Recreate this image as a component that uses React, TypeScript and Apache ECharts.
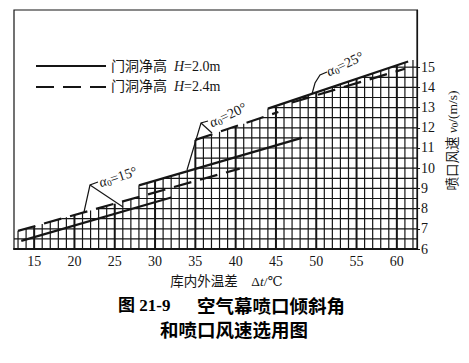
import React, { useEffect, useRef } from 'react';
import * as echarts from 'echarts';

// axis ticks
const xTickLabels = [15, 20, 25, 30, 35, 40, 45, 50, 55, 60];
const yTickLabels = [6, 7, 8, 9, 10, 11, 12, 13, 14, 15];

// 门洞净高 H = 2.0 m (solid)  [Δt, v0]
const solid15 = [[13.4, 6.4], [32.0, 8.55]];
const solid20 = [[28.0, 9.15], [48.2, 11.5]];
const solid25 = [[44.0, 12.95], [61.4, 15.28]];
// 门洞净高 H = 2.4 m (dashed)
const dashed15 = [[13.0, 6.9], [40.5, 9.98]];
const dashed20 = [[35.0, 11.4], [45.3, 12.78]];
const dashed25 = [[47.0, 13.25], [61.0, 14.92]];

// upper boundary of the chart grid: line used until each break value
const gridTopLines = [dashed15, solid20, dashed20, solid25];
const gridTopBreaks = [28, 35, 44, 62.5];

// grid positions
const gridColumns = [13, 14, 15, 16, 17, 18, 19, 20, 21, 22, 23, 24, 25, 26, 27, 28, 29, 30, 31, 32, 33, 34, 35, 36, 37, 38, 39, 40, 41, 42, 43, 44, 45, 46, 47, 48, 49, 50, 51, 52, 53, 54, 55, 56, 57, 58, 59, 60, 61, 62];
const gridRows = [6.5, 7, 7.5, 8, 8.5, 9, 9.5, 10, 10.5, 11, 11.5, 12, 12.5, 13, 13.5, 14, 14.5, 15];

const X_MIN = 12.5;
const X_MAX = 62.5;
const Y_MIN = 6;
const Y_MAX = 17.83;

const NAME_20 = '门洞净高  H=2.0m';
const NAME_24 = '门洞净高  H=2.4m';

function lineAt(line: number[][], t: number) {
  const [[x1, y1], [x2, y2]] = line;
  return y1 + ((y2 - y1) * (t - x1)) / (x2 - x1);
}

function gridTop(t: number) {
  for (let i = 0; i < gridTopBreaks.length; i++) {
    if (t < gridTopBreaks[i] || i === gridTopBreaks.length - 1) return lineAt(gridTopLines[i], t);
  }
  return Y_MIN;
}

function rowStart(v: number): number | null {
  let from = X_MIN;
  for (let i = 0; i < gridTopBreaks.length; i++) {
    const to = gridTopBreaks[i];
    const line = gridTopLines[i];
    const a = lineAt(line, from);
    const b = lineAt(line, to);
    if (v <= a) return from;
    if (v <= b) return from + ((v - a) * (to - from)) / (b - a);
    from = to;
  }
  return null;
}

function buildGridSegments() {
  const segs: number[][] = [];
  gridColumns.forEach((t) => {
    segs.push([t, Y_MIN, t, gridTop(t), t % 5 === 0 ? 1 : 0]);
  });
  gridRows.forEach((v) => {
    const s = rowStart(v);
    if (s !== null) segs.push([s, v, X_MAX, v, 0]);
  });
  return segs;
}

const serif = '"Liberation Serif", "DejaVu Serif", "Noto Sans CJK SC", serif';
const ink = '#151515';

function curve(name: string, data: number[][], dashed: boolean) {
  return {
    type: 'line',
    name,
    data,
    symbol: 'none',
    showSymbol: false,
    silent: true,
    z: 5,
    lineStyle: { color: ink, width: 2.2, type: dashed ? [18, 9] : 'solid' },
    itemStyle: { color: ink },
  };
}

function alphaLabel(text: string, x: number, y: number, deg: number) {
  return {
    type: 'text',
    x,
    y,
    rotation: (deg * Math.PI) / 180,
    style: {
      text: `{i|α}{s|0}{n|=${text}°}`,
      align: 'center',
      verticalAlign: 'middle',
      fill: ink,
      rich: {
        i: { fontFamily: serif, fontStyle: 'italic', fontSize: 14, fill: ink },
        s: { fontFamily: serif, fontSize: 9, fill: ink, padding: [6, 0, 0, 0] },
        n: { fontFamily: serif, fontSize: 14, fill: ink },
      },
    },
    z: 10,
  };
}

function leader(points: number[][]) {
  return {
    type: 'polyline',
    shape: { points },
    style: { stroke: ink, lineWidth: 1.2, fill: null },
    z: 10,
  };
}

export default function App() {
  const ref = useRef<HTMLDivElement>(null);
  useEffect(() => {
    const chart = echarts.init(ref.current!, undefined, { renderer: 'svg' });
    const option: any = {
      animation: false,
      backgroundColor: '#fff',
      grid: {
        left: 14,
        right: 52,
        top: 10,
        bottom: 114,
        show: true,
        borderColor: ink,
        borderWidth: 1.2,
      },
      xAxis: {
        type: 'value',
        min: X_MIN,
        max: X_MAX,
        splitLine: { show: false },
        axisTick: { show: false },
        axisLine: { show: true, onZero: false, lineStyle: { color: ink, width: 2 } },
        axisLabel: { customValues: xTickLabels, color: ink, fontSize: 14, fontFamily: serif, margin: 5 },
        name: '{a|库内外温差    Δ}{i|t}{a|/℃}',
        nameLocation: 'middle',
        nameGap: 26,
        nameTextStyle: {
          padding: [0, 0, 0, 22],
          rich: {
            a: { fontSize: 13.5, color: ink, fontFamily: serif },
            i: { fontSize: 13.5, color: ink, fontFamily: serif, fontStyle: 'italic' },
          },
        },
      },
      yAxis: {
        type: 'value',
        position: 'right',
        min: Y_MIN,
        max: Y_MAX,
        splitLine: { show: false },
        axisLine: { show: true, lineStyle: { color: ink, width: 1.2 } },
        axisTick: { show: true, customValues: yTickLabels, length: 3, lineStyle: { color: ink } },
        axisLabel: { customValues: yTickLabels, color: ink, fontSize: 14, fontFamily: serif, margin: 4 },
        name: '{a|喷口风速 }{i|v}{s|0}{a|/(m/s)}',
        nameLocation: 'middle',
        nameRotate: 90,
        nameGap: 8,
        nameTextStyle: {
          padding: [0, 22, 0, 0],
          rich: {
            a: { fontSize: 13.5, color: ink, fontFamily: serif },
            i: { fontSize: 13.5, color: ink, fontFamily: serif, fontStyle: 'italic' },
            s: { fontSize: 9, color: ink, fontFamily: serif, padding: [5, 0, 0, 0] },
          },
        },
      },
      legend: {
        data: [NAME_20, NAME_24],
        orient: 'vertical',
        left: 30,
        top: 54,
        itemWidth: 70,
        itemHeight: 14,
        itemGap: 7,
        selectedMode: false,
        itemStyle: { color: 'rgba(0,0,0,0)', borderColor: 'rgba(0,0,0,0)', borderWidth: 0 },
        formatter: (name: string) => name.replace('H', '{i|H}'),
        textStyle: {
          fontSize: 14,
          color: ink,
          fontFamily: serif,
          rich: {
            i: { fontSize: 14, color: ink, fontFamily: serif, fontStyle: 'italic' },
          },
        },
      },
      graphic: [
        alphaLabel('15', 118, 177, 18),
        alphaLabel('20', 228, 115, 25),
        alphaLabel('25', 345, 64, 25),
        leader([[98, 182], [90, 185], [84, 212]]),
        leader([[90, 185], [123, 207]]),
        leader([[208, 121], [201, 123], [187, 170]]),
        leader([[201, 123], [212, 133]]),
        leader([[327, 72], [320, 75], [315, 83], [312, 94]]),
        {
          type: 'text',
          x: 118,
          y: 305,
          style: { text: '图 21-9', font: `bold 17px ${serif}`, fill: '#000', align: 'left', verticalAlign: 'middle' },
        },
        {
          type: 'text',
          x: 197,
          y: 305,
          style: { text: '空气幕喷口倾斜角', font: 'bold 18.5px "Noto Sans CJK SC", sans-serif', fill: '#000', align: 'left', verticalAlign: 'middle' },
        },
        {
          type: 'text',
          x: 234,
          y: 329,
          style: { text: '和喷口风速选用图', font: 'bold 18.5px "Noto Sans CJK SC", sans-serif', fill: '#000', align: 'center', verticalAlign: 'middle' },
        },
      ],
      series: [
        {
          type: 'custom',
          silent: true,
          z: 2,
          encode: { x: [0, 2], y: [1, 3] },
          data: buildGridSegments(),
          renderItem: (_params: any, api: any) => {
            const p1 = api.coord([api.value(0), api.value(1)]);
            const p2 = api.coord([api.value(2), api.value(3)]);
            return {
              type: 'line',
              shape: { x1: p1[0], y1: p1[1], x2: p2[0], y2: p2[1] },
              style: { stroke: ink, lineWidth: api.value(4) ? 2 : 1.2 },
            };
          },
        },
        curve(NAME_20, solid15, false),
        curve(NAME_20, solid20, false),
        curve(NAME_20, solid25, false),
        curve(NAME_24, dashed15, true),
        curve(NAME_24, dashed20, true),
        curve(NAME_24, dashed25, true),
      ],
    };
    chart.setOption(option);
    return () => chart.dispose();
  }, []);
  return (
    <div
      ref={ref}
      style={{ position: 'fixed', left: 0, top: 0, width: 469, height: 363, background: '#fff' }}
    />
  );
}
